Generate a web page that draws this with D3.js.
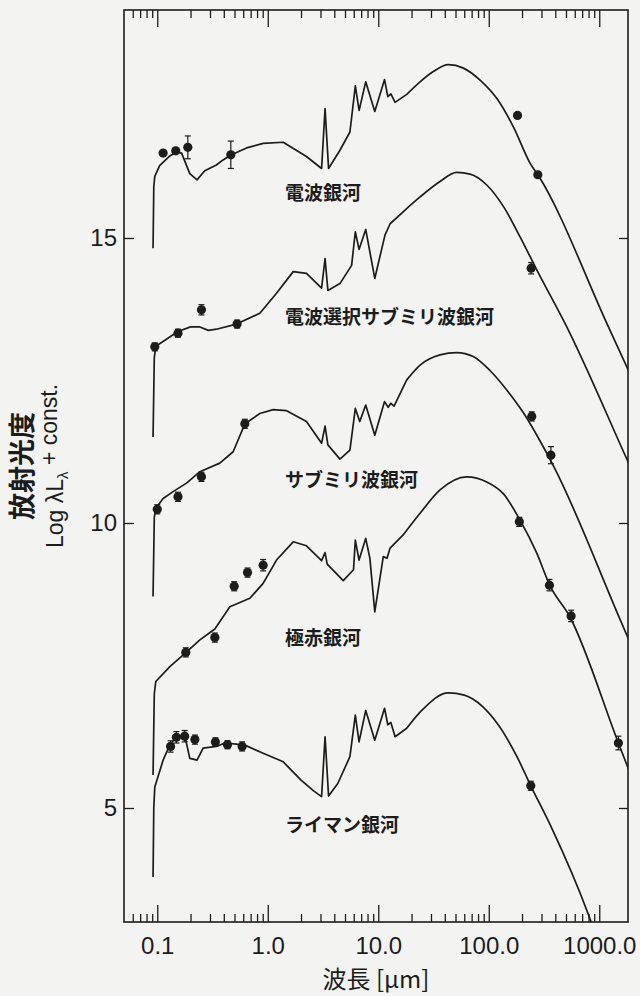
<!DOCTYPE html>
<html><head><meta charset="utf-8">
<script src="https://cdn.jsdelivr.net/npm/d3@7"></script>
<style>html,body{margin:0;padding:0;background:#f3f3f1}svg{display:block}</style>
</head><body>
<svg id="chart" width="640" height="996"></svg>
<script>
// ---------- data ----------
const xTickValues = [0.1, 1, 10, 100, 1000];
const xTickLabels = ["0.1", "1.0", "10.0", "100.0", "1000.0"];
const yTickValues = [5, 10, 15];
const yTickLabels = ["5", "10", "15"];
const seriesNames = ["電波銀河", "電波選択サブミリ波銀河", "サブミリ波銀河", "極赤銀河", "ライマン銀河"];

// model SEDs: [wavelength (µm), log λLλ + const]
const radioGalaxyModel = [[0.0916,14.82],[0.093,15.9],[0.095,16.08],[0.105,16.27],[0.13,16.44],[0.149,16.51],[0.166,16.49],[0.197,16.13],[0.229,16.02],[0.269,16.18],[0.343,16.28],[0.394,16.37],[0.47,16.46],[0.643,16.58],[0.908,16.66],[1.38,16.68],[2.24,16.43],[3.07,16.22],[3.3,17.27],[3.55,16.22],[4.5,16.54],[5.54,16.86],[6.2,17.67],[6.71,17.24],[7.7,17.74],[9.3,17.22],[11.4,17.78],[12.2,17.48],[13.0,17.53],[14.2,17.38],[18.1,17.52],[23.9,17.74],[31.5,17.92],[43,18.04],[58.9,17.98],[83.4,17.77],[118,17.45],[167,16.95],[237,16.31],[280,16.1],[1211,13.44],[2000,12.52]];
const radioSmgModel = [[0.0916,11.51],[0.094,12.9],[0.097,13.1],[0.12,13.22],[0.154,13.36],[0.2,13.44],[0.243,13.44],[0.29,13.38],[0.343,13.40],[0.521,13.49],[0.848,13.68],[1.2,14.03],[1.7,14.41],[2.24,14.38],[3.07,14.12],[3.3,14.64],[3.5,14.08],[4.5,14.2],[5.74,14.52],[6.2,15.11],[6.7,14.8],[7.7,15.15],[9.3,14.29],[11.5,15.05],[12.8,15.25],[16.8,15.46],[23.9,15.72],[36.2,15.99],[51.3,16.15],[67.7,16.12],[95.9,15.93],[136,15.55],[192,15.02],[272,14.44],[508,13.44],[1905,10.99],[2000,10.9]];
const smgModel = [[0.0916,8.71],[0.094,10.1],[0.097,10.26],[0.113,10.43],[0.139,10.55],[0.184,10.70],[0.243,10.9],[0.368,11.05],[0.486,11.25],[0.621,11.74],[0.848,11.92],[1.12,11.99],[1.48,11.97],[2.24,11.78],[3.07,11.4],[3.3,11.7],[3.5,11.37],[4.5,11.12],[5.54,11.28],[6.2,12.01],[6.8,11.78],[7.7,12.07],[9.3,11.54],[11.4,12.13],[12.3,12.03],[13.0,12.1],[13.9,12.05],[18.1,12.51],[23.9,12.77],[36.2,12.95],[51.3,12.99],[72.3,12.92],[102,12.68],[146,12.33],[208,11.92],[293,11.43],[388,10.99],[1549,8.3],[2000,7.8]];
const eroModel = [[0.0916,5.58],[0.094,7.0],[0.097,7.22],[0.13,7.48],[0.177,7.71],[0.243,7.95],[0.332,8.14],[0.454,8.53],[0.689,8.68],[0.908,8.94],[1.2,9.35],[1.7,9.67],[2.24,9.6],[3.07,9.34],[3.3,9.48],[3.45,9.28],[4.82,8.99],[5.97,9.18],[6.2,9.7],[6.7,9.35],[7.7,9.73],[8.4,9.38],[9.3,8.44],[11.1,9.41],[12.0,9.38],[12.8,9.56],[16.8,9.79],[23.9,10.17],[36.2,10.58],[63,10.81],[95.9,10.72],[136,10.51],[192,10.05],[272,9.47],[356,8.91],[540,8.36],[1490,6.14],[2000,5.5]];
const lbgModel = [[0.0916,3.79],[0.093,5.0],[0.095,5.37],[0.113,5.84],[0.13,6.11],[0.149,6.25],[0.177,6.28],[0.197,5.87],[0.229,5.84],[0.26,6.05],[0.343,6.08],[0.41,6.14],[0.52,6.12],[0.643,6.09],[0.908,5.96],[1.38,5.81],[2.0,5.49],[2.6,5.3],[3.07,5.2],[3.3,6.25],[3.55,5.21],[4.3,5.43],[5.54,5.9],[6.2,6.63],[6.7,6.16],[7.7,6.71],[9.3,6.19],[11.4,6.75],[12.2,6.46],[13.0,6.5],[14.2,6.25],[18.1,6.4],[25,6.72],[43,7.02],[60,6.98],[88,6.78],[125,6.43],[180,5.9],[240,5.39],[367,4.67],[791,3.15],[1000,2.6]];

// photometry: [wavelength (µm), value, error]
const radioGalaxyPhot = [[0.113,16.49,0],[0.147,16.53,0],[0.189,16.59,0.2],[0.463,16.46,0.24],[182,17.15,0],[278,16.11,0]];
const radioSmgPhot = [[0.095,13.09,0.07],[0.154,13.33,0.07],[0.251,13.74,0.09],[0.528,13.49,0.07],[242,14.47,0.1]];
const smgPhot = [[0.1,10.24,0.08],[0.154,10.46,0.08],[0.251,10.81,0.08],[0.62,11.74,0.08],[245,11.87,0.08],[365,11.19,0.15]];
const eroPhot = [[0.181,7.73,0.08],[0.332,7.99,0.08],[0.497,8.89,0.08],[0.656,9.13,0.08],[0.908,9.26,0.1],[189,10.02,0.08],[354,8.91,0.1],[556,8.37,0.1],[1490,6.14,0.12]];
const lbgPhot = [[0.132,6.08,0.1],[0.149,6.24,0.1],[0.177,6.26,0.1],[0.219,6.2,0.08],[0.336,6.16,0.07],[0.432,6.11,0.07],[0.586,6.08,0.08],[240,5.39,0.08]];

const models = [radioGalaxyModel, radioSmgModel, smgModel, eroModel, lbgModel];
const phots = [radioGalaxyPhot, radioSmgPhot, smgPhot, eroPhot, lbgPhot];

// ---------- layout ----------
const L = 124, R = 628, T = 10, B = 922;
const labelY = [193, 317, 480, 638, 825];
const labelX = 285;
const ink = "#1c1c1c";
const smoothFrom = 16; // µm: sharp emission features below, smooth dust hump above

const svg = d3.select("#chart");
svg.append("rect").attr("width", 640).attr("height", 996).attr("fill", "#f3f3f1");

const x = d3.scaleLog().domain([0.05, 1820]).range([L, R]);
const y = d3.scaleLinear().domain([3, 19]).range([B, T]);

const minorTicks = x.ticks().filter(v => v > 0.055 && !xTickValues.some(m => Math.abs(m - v) / m < 1e-6));

function styleAxis(g) {
  g.select(".domain").remove();
  g.selectAll(".tick line").attr("stroke", ink).attr("stroke-width", 1.3);
}

// bottom axis
svg.append("g").attr("transform", `translate(0,${B})`)
  .call(d3.axisBottom(x).tickValues(minorTicks).tickSize(-8).tickFormat(""))
  .call(styleAxis);
svg.append("g").attr("transform", `translate(0,${B})`)
  .call(d3.axisBottom(x).tickValues(xTickValues).tickSize(-17).tickPadding(15)
    .tickFormat((d, i) => xTickLabels[i]))
  .call(styleAxis)
  .call(g => g.selectAll("text").attr("fill", ink)
    .style("font-family", "'Liberation Sans', Arial, sans-serif").style("font-size", "24px"));
// top axis
svg.append("g").attr("transform", `translate(0,${T})`)
  .call(d3.axisTop(x).tickValues(minorTicks).tickSize(-8).tickFormat(""))
  .call(styleAxis);
svg.append("g").attr("transform", `translate(0,${T})`)
  .call(d3.axisTop(x).tickValues(xTickValues).tickSize(-17).tickFormat(""))
  .call(styleAxis);
// left axis
svg.append("g").attr("transform", `translate(${L},0)`)
  .call(d3.axisLeft(y).tickValues(yTickValues).tickSize(-10).tickPadding(7)
    .tickFormat((d, i) => yTickLabels[i]))
  .call(styleAxis)
  .call(g => g.selectAll("text").attr("fill", ink)
    .style("font-family", "'Liberation Sans', Arial, sans-serif").style("font-size", "24px"));
// right axis
svg.append("g").attr("transform", `translate(${R},0)`)
  .call(d3.axisRight(y).tickValues(yTickValues).tickSize(-9).tickFormat(""))
  .call(styleAxis);

// frame
svg.append("rect").attr("x", L).attr("y", T).attr("width", R - L).attr("height", B - T)
  .attr("fill", "none").attr("stroke", ink).attr("stroke-width", 1.6);

// clip
svg.append("clipPath").attr("id", "plotclip").append("rect")
  .attr("x", L).attr("y", T).attr("width", R - L).attr("height", B - T);

const sharpLine = d3.line().x(d => x(d[0])).y(d => y(d[1]));
const smoothLine = d3.line().x(d => x(d[0])).y(d => y(d[1])).curve(d3.curveMonotoneX);
const plot = svg.append("g").attr("clip-path", "url(#plotclip)");

models.forEach(m => {
  const k = m.findIndex(d => d[0] >= smoothFrom);
  const pathD = sharpLine(m.slice(0, k + 1)) + smoothLine(m.slice(k)).replace(/^M[^A-Za-z]*/, "");
  plot.append("path").attr("d", pathD).attr("fill", "none").attr("stroke", ink)
    .attr("stroke-width", 1.7).attr("stroke-linejoin", "round");
});

phots.forEach(ph => {
  const g = plot.append("g");
  const withErr = ph.filter(d => d[2] > 0);
  g.selectAll("line.eb").data(withErr).join("line")
    .attr("x1", d => x(d[0])).attr("x2", d => x(d[0]))
    .attr("y1", d => y(d[1] - d[2])).attr("y2", d => y(d[1] + d[2]))
    .attr("stroke", ink).attr("stroke-width", 1.2);
  ["lo", "hi"].forEach((k, j) => {
    g.selectAll("line.cap" + k).data(withErr).join("line")
      .attr("x1", d => x(d[0]) - 3).attr("x2", d => x(d[0]) + 3)
      .attr("y1", d => y(d[1] + (j ? d[2] : -d[2]))).attr("y2", d => y(d[1] + (j ? d[2] : -d[2])))
      .attr("stroke", ink).attr("stroke-width", 1.2);
  });
  g.selectAll("circle").data(ph).join("circle")
    .attr("cx", d => x(d[0])).attr("cy", d => y(d[1])).attr("r", 4.6).attr("fill", ink);
});

// series labels
svg.selectAll("text.slabel").data(seriesNames).join("text").attr("class", "slabel")
  .attr("x", labelX).attr("y", (d, i) => labelY[i]).attr("dy", "0.35em")
  .attr("fill", ink).style("font-family", "'Noto Sans CJK JP', sans-serif")
  .style("font-weight", "bold").style("font-size", "19px").text(d => d);

// axis titles
svg.append("text").attr("x", (L + R) / 2).attr("y", 988)
  .attr("text-anchor", "middle").attr("fill", ink)
  .style("font-family", "'Noto Sans CJK JP', sans-serif").style("font-size", "24px")
  .text("波長 [μm]");

svg.append("text").attr("transform", `translate(23,${(T + B) / 2}) rotate(-90)`)
  .attr("dy", "0.35em").attr("text-anchor", "middle").attr("fill", ink)
  .style("font-family", "'Noto Sans CJK JP', sans-serif").style("font-weight", "bold")
  .style("font-size", "27px").text("放射光度");

const lt = svg.append("text").attr("transform", `translate(55,${(T + B) / 2}) rotate(-90)`)
  .attr("dy", "0.35em").attr("text-anchor", "middle").attr("fill", ink)
  .style("font-family", "'Liberation Sans', Arial, sans-serif").style("font-size", "23px");
lt.append("tspan").text("Log λL");
lt.append("tspan").attr("dy", "0.3em").style("font-size", "15px").text("λ");
lt.append("tspan").attr("dy", "-0.45em").text(" + const.");
</script>
</body></html>
